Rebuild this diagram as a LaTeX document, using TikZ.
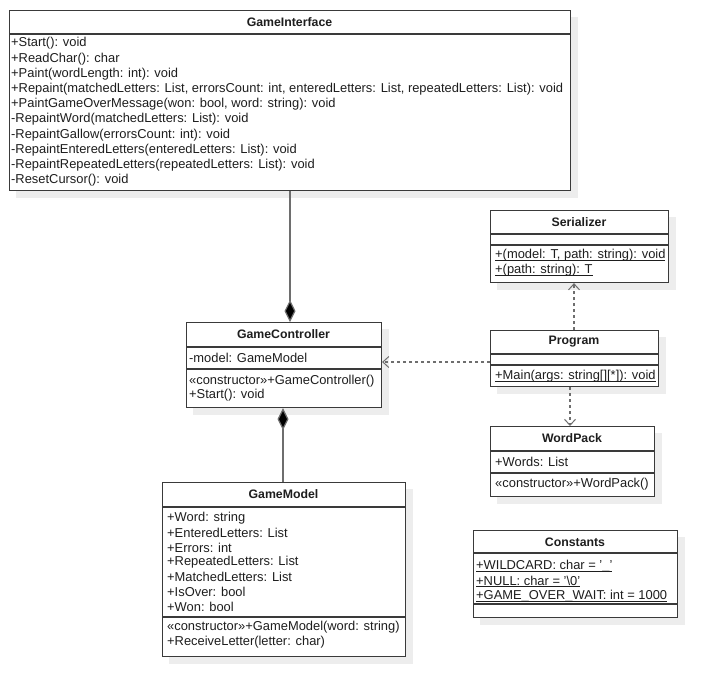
\documentclass[tikz,border=0pt]{standalone}
\usepackage{fontspec}
\setmainfont{Liberation Sans}
\usetikzlibrary{arrows.meta,backgrounds}
\definecolor{bord}{HTML}{3A3A3A}
\definecolor{conn}{HTML}{6E6E6E}
\definecolor{shad}{HTML}{EDEDED}
\definecolor{txt}{HTML}{1E1E1E}
\newcommand\myul[1]{\setbox0\hbox{#1}\rlap{\rule[-2pt]{\wd0}{0.7pt}}\box0}
\tikzset{
  box/.style={draw=bord, line width=1.1pt, fill=white, anchor=north west, inner sep=0, rectangle},
  ttl/.style={inner sep=0, font=\fontsize{12.3}{14}\selectfont\bfseries, text=txt},
  ln/.style={anchor=west, inner sep=0, font=\fontsize{12.9}{15}\selectfont, text=txt},
  sepline/.style={draw=bord, line width=1.1pt},
  comp/.style={draw=conn, line width=1.2pt, -{Diamond[length=22pt,width=11pt,fill=black]}, shorten >=0pt},
  dep/.style={draw=conn, line width=1.2pt, dash pattern=on 3pt off 3pt, -{Straight Barb[length=6pt,width=11pt,line width=1pt]}},
}
\begin{document}
\begin{tikzpicture}[x=1pt,y=-1pt]
\useasboundingbox (0,0) rectangle (717,697);

% ---------- GameInterface
\node[box, minimum width=561pt, minimum height=180pt] (gi) at (9,10) {};
\node[ttl] (gi-t) at (289.5,22) {GameInterface};
\draw[sepline] (9,34) -- (570,34);
\foreach \t [count=\i from 0] in {
  {+Start(): void},
  {+ReadChar(): char},
  {+Paint(wordLength: int): void},
  {+Repaint(matchedLetters: List, errorsCount: int, enteredLetters: List, repeatedLetters: List): void},
  {+PaintGameOverMessage(won: bool, word: string): void},
  {-RepaintWord(matchedLetters: List): void},
  {-RepaintGallow(errorsCount: int): void},
  {-RepaintEnteredLetters(enteredLetters: List): void},
  {-RepaintRepeatedLetters(repeatedLetters: List): void},
  {-ResetCursor(): void}}
  \node[ln] (gi-m\i) at (11,43.5+15.2*\i) {\t};

% ---------- Serializer
\node[box, minimum width=178pt, minimum height=72pt] (ser) at (490,210) {};
\node[ttl] (ser-t) at (579,222) {Serializer};
\draw[sepline] (490,234) -- (668,234);
\draw[sepline] (490,245) -- (668,245);
\node[ln] (ser-m1) at (495,255.5) {\myul{+(model: T, path: string): void}};
\node[ln] (ser-m2) at (495,270.5) {\myul{+(path: string): T}};

% ---------- Program
\node[box, minimum width=168pt, minimum height=56pt] (prog) at (490,330) {};
\node[ttl] (prog-t) at (574,342) {Program};
\draw[sepline] (490,354) -- (658,354);
\draw[sepline] (490,365) -- (658,365);
\node[ln] (prog-m1) at (495,376) {\myul{+Main(args: string[][*]): void}};

% ---------- GameController
\node[box, minimum width=195pt, minimum height=85pt] (gc) at (186,322) {};
\node[ttl] (gc-t) at (283.5,334.5) {GameController};
\draw[sepline] (186,347) -- (381,347);
\node[ln] (gc-a1) at (189,358) {-model: GameModel};
\draw[sepline] (186,369) -- (381,369);
\node[ln] (gc-m1) at (189,381) {«constructor»+GameController()};
\node[ln] (gc-m2) at (189,395.5) {+Start(): void};

% ---------- WordPack
\node[box, minimum width=164pt, minimum height=70pt] (wp) at (490,426) {};
\node[ttl] (wp-t) at (572,438.5) {WordPack};
\draw[sepline] (490,451) -- (654,451);
\node[ln] (wp-a1) at (495,462) {+Words: List};
\draw[sepline] (490,473) -- (654,473);
\node[ln] (wp-m1) at (495,484.5) {«constructor»+WordPack()};

% ---------- Constants
\node[box, minimum width=204pt, minimum height=87pt] (con) at (473,530) {};
\node[ttl] (con-t) at (575,542) {Constants};
\draw[sepline] (473,553) -- (677,553);
\node[ln] (con-a1) at (476,566.5) {\myul{+WILDCARD: char = '\_'}};
\node[ln] (con-a2) at (476,581.5) {\myul{+NULL: char = '\textbackslash 0'}};
\node[ln] (con-a3) at (476,596) {\myul{+GAME\_OVER\_WAIT: int = 1000}};
\draw[sepline] (473,604) -- (677,604);

% ---------- GameModel
\node[box, minimum width=243pt, minimum height=174pt] (gm) at (162,482) {};
\node[ttl] (gm-t) at (283.5,494.5) {GameModel};
\draw[sepline] (162,507) -- (405,507);
\foreach \t [count=\i from 0] in {
  {+Word: string},
  {+EnteredLetters: List},
  {+Errors: int},
  {+RepeatedLetters: List},
  {+MatchedLetters: List},
  {+IsOver: bool},
  {+Won: bool}}
  \node[ln] (gm-a\i) at (167,518+14.8*\i) {\t};
\draw[sepline] (162,617) -- (405,617);
\node[ln] (gm-m1) at (167,627.5) {«constructor»+GameModel(word: string)};
\node[ln] (gm-m2) at (167,642) {+ReceiveLetter(letter: char)};

% ---------- background and shadows
\begin{scope}[on background layer]
  \fill[white] (0,0) rectangle (717,697);
  \foreach \n in {gi,ser,prog,gc,wp,con,gm}
    \fill[shad] ([shift={(7,7)}]\n.north west) rectangle ([shift={(7,7)}]\n.south east);
\end{scope}

% ---------- connectors
\coordinate (xa) at (290,0);
\coordinate (xb) at (283,0);
\coordinate (xc) at (574,0);
\coordinate (xd) at (570,0);
\coordinate (ya) at (0,362);
\draw[comp] (gi.south -| xa) -- (gc.north -| xa);
\draw[comp] (gm.north -| xb) -- (gc.south -| xb);
\draw[dep] (prog.north -| xc) -- (ser.south -| xc);
\draw[dep] (prog.west |- ya) -- (gc.east |- ya);
\draw[dep] (prog.south -| xd) -- (wp.north -| xd);
\end{tikzpicture}
\end{document}
